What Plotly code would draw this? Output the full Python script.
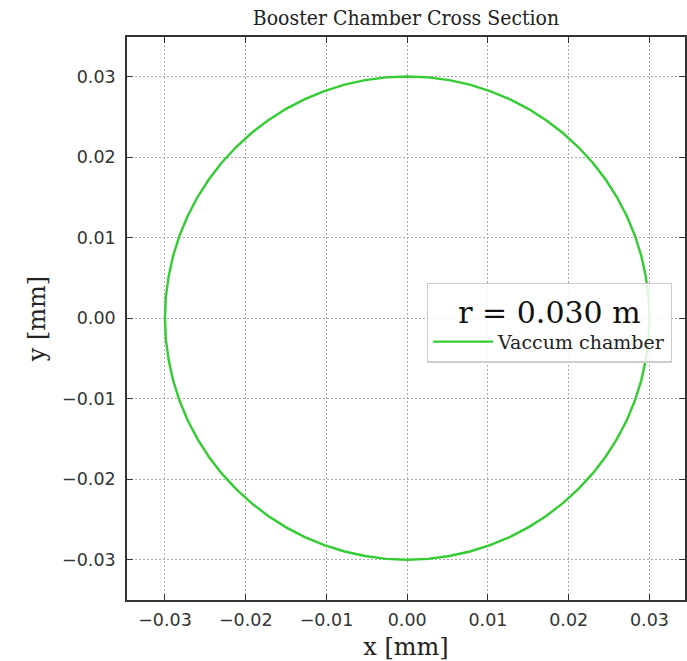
import plotly.graph_objects as go

# Vacuum chamber outline, r = 0.030 m (points read around the circle, 5 degree steps)
x_vals = [0.03000, 0.02989, 0.02954, 0.02898, 0.02819, 0.02719, 0.02598, 0.02457, 0.02298, 0.02121,
          0.01928, 0.01721, 0.01500, 0.01268, 0.01026, 0.00776, 0.00521, 0.00261,
          0.00000, -0.00261, -0.00521, -0.00776, -0.01026, -0.01268, -0.01500, -0.01721, -0.01928,
          -0.02121, -0.02298, -0.02457, -0.02598, -0.02719, -0.02819, -0.02898, -0.02954, -0.02989,
          -0.03000, -0.02989, -0.02954, -0.02898, -0.02819, -0.02719, -0.02598, -0.02457, -0.02298,
          -0.02121, -0.01928, -0.01721, -0.01500, -0.01268, -0.01026, -0.00776, -0.00521, -0.00261,
          0.00000, 0.00261, 0.00521, 0.00776, 0.01026, 0.01268, 0.01500, 0.01721, 0.01928,
          0.02121, 0.02298, 0.02457, 0.02598, 0.02719, 0.02819, 0.02898, 0.02954, 0.02989, 0.03000]
y_vals = [0.00000, 0.00261, 0.00521, 0.00776, 0.01026, 0.01268, 0.01500, 0.01721, 0.01928,
          0.02121, 0.02298, 0.02457, 0.02598, 0.02719, 0.02819, 0.02898, 0.02954, 0.02989,
          0.03000, 0.02989, 0.02954, 0.02898, 0.02819, 0.02719, 0.02598, 0.02457, 0.02298,
          0.02121, 0.01928, 0.01721, 0.01500, 0.01268, 0.01026, 0.00776, 0.00521, 0.00261,
          0.00000, -0.00261, -0.00521, -0.00776, -0.01026, -0.01268, -0.01500, -0.01721, -0.01928,
          -0.02121, -0.02298, -0.02457, -0.02598, -0.02719, -0.02819, -0.02898, -0.02954, -0.02989,
          -0.03000, -0.02989, -0.02954, -0.02898, -0.02819, -0.02719, -0.02598, -0.02457, -0.02298,
          -0.02121, -0.01928, -0.01721, -0.01500, -0.01268, -0.01026, -0.00776, -0.00521, -0.00261, 0.00000]
tick_vals = [-0.03, -0.02, -0.01, 0.00, 0.01, 0.02, 0.03]
tick_text = ["\u22120.03", "\u22120.02", "\u22120.01", "0.00", "0.01", "0.02", "0.03"]
series_name = "Vaccum chamber"
legend_title = "r = 0.030 m"

fig = go.Figure()
fig.add_trace(go.Scatter(x=x_vals, y=y_vals, mode="lines", name=series_name,
                         line=dict(color="#33cc33", width=2.4), showlegend=True))

axis_common = dict(
    tickvals=tick_vals, ticktext=tick_text,
    ticks="inside", ticklen=6, tickwidth=1.4, tickcolor="#333",
    showline=True, linecolor="#333", linewidth=1.6, mirror="ticks",
    showgrid=True, gridcolor="#aaaaaa", griddash="2px,2px", gridwidth=1.2,
    zeroline=False,
    tickfont=dict(family="DejaVu Sans", size=17.5, color="#333"),
)

fig.update_layout(
    width=687, height=661,
    margin=dict(l=127, r=0, t=37, b=60),
    paper_bgcolor="white", plot_bgcolor="white",
    title=dict(text="Booster Chamber Cross Section", x=0.5, xref="paper", xanchor="center",
               y=1 - 18 / 661, yanchor="middle",
               font=dict(family="DejaVu Serif Condensed, DejaVu Serif", size=21, color="#222")),
    xaxis=dict(range=[-0.0347, 0.0344], **axis_common, ticklabelstandoff=3,
               title=dict(text="x [mm]", standoff=14,
                          font=dict(family="DejaVu Serif", size=24, color="#222"))),
    yaxis=dict(range=[-0.0350, 0.0349], **axis_common, ticklabelstandoff=6,
               title=dict(text="y [mm]", standoff=10,
                          font=dict(family="DejaVu Serif", size=24, color="#222"))),
    legend=dict(x=0.5375, y=0.5638, xanchor="left", yanchor="top",
                bgcolor="rgba(255,255,255,0.85)", bordercolor="#cccccc", borderwidth=1.2,
                font=dict(family="DejaVu Serif", size=19, color="#222"),
                title=dict(text=legend_title, side="top center",
                           font=dict(family="DejaVu Serif", size=30, color="#111")),
                itemwidth=60, entrywidth=185, entrywidthmode="pixels", tracegroupgap=0),
)

fig.write_html("out.html")
